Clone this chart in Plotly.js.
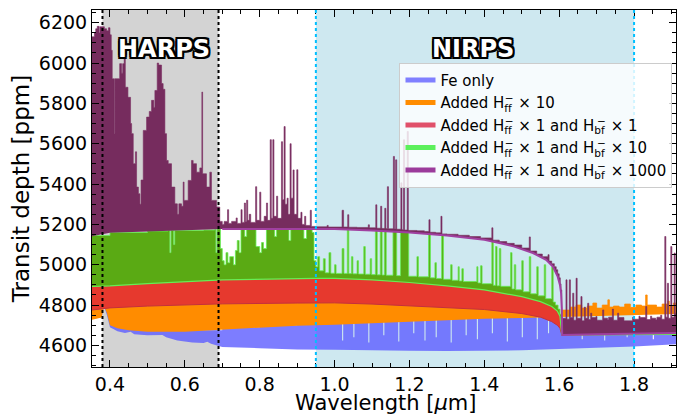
<!DOCTYPE html>
<html><head><meta charset="utf-8">
<script src="https://cdn.plot.ly/plotly-3.0.1.min.js"></script>
<style>html,body{margin:0;padding:0;background:#fff}#chart{width:677px;height:414px}</style>
</head><body><div id="chart"></div>
<script>
// ---- data: [wavelength (um), transit depth (ppm)] ----
const Hff = 'H<sub>f<span style="letter-spacing:-7px">f</span></sub><sup>−</sup>';
const Hbf = 'H<sub>b<span style="letter-spacing:-7.5px">f</span></sub><sup>−</sup>';
const seriesNames = ['Fe only',
  'Added ' + Hff + ' × 10',
  'Added ' + Hff + ' × 1 and ' + Hbf + ' × 1',
  'Added ' + Hff + ' × 1 and ' + Hbf + ' × 10',
  'Added ' + Hff + ' × 1 and ' + Hbf + ' × 1000'];
const xTitle = 'Wavelength [<i>μ</i>m]';
const yTitle = 'Transit depth [ppm]';

const feCont = [[0.35,4730],[0.378,4740],[0.384,4795],[0.392,4750],[0.40,4690],[0.42,4670],[0.44,4662],[0.455,4668],[0.465,4655],[0.50,4650],[0.54,4652],[0.55,4640],[0.58,4625],[0.62,4615],[0.65,4612],[0.66,4618],[0.67,4608],[0.70,4592],[0.80,4586],[0.90,4580],[1.0,4578],[1.1,4574],[1.2,4573],[1.3,4572],[1.4,4573],[1.5,4576],[1.6,4582],[1.7,4588],[1.8,4595],[1.92,4607]];
const feTop = [[0.35,4740],[0.378,4800],[0.392,4765],[0.40,4705],[0.42,4690],[0.45,4680],[0.50,4675],[0.70,4690],[0.80,4700],[0.90,4708],[1.0,4718],[1.02,4625],[1.023,4720],[1.05,4640],[1.053,4722],[1.09,4615],[1.093,4725],[1.13,4650],[1.133,4728],[1.17,4620],[1.173,4730],[1.21,4660],[1.213,4732],[1.24,4625],[1.243,4735],[1.27,4640],[1.273,4738],[1.31,4615],[1.313,4740],[1.35,4650],[1.353,4742],[1.38,4630],[1.383,4744],[1.42,4660],[1.423,4745],[1.46,4620],[1.463,4746],[1.50,4640],[1.503,4746],[1.54,4630],[1.543,4746],[1.57,4660],[1.573,4746],[1.607,4660],[1.66,4630],[1.663,4660],[1.72,4625],[1.723,4660],[1.78,4640],[1.783,4660],[1.85,4630],[1.853,4660],[1.92,4660]];

const ffCont = [[0.35,4727],[0.378,4738],[0.384,4795],[0.392,4760],[0.40,4700],[0.42,4685],[0.45,4675],[0.50,4668],[0.60,4668],[0.70,4677],[0.80,4688],[0.90,4698],[1.0,4703],[1.1,4711],[1.2,4716],[1.3,4724],[1.4,4732],[1.5,4736],[1.6,4740],[1.7,4746],[1.8,4751],[1.92,4756]];
const ffTop = [[0.35,4790],[0.40,4795],[0.50,4802],[0.60,4808],[0.80,4815],[1.0,4818],[1.1,4812],[1.2,4800],[1.3,4793],[1.4,4783],[1.45,4772],[1.5,4763],[1.53,4755],[1.56,4750],[1.60,4752],[1.607,4775],[1.63,4790],[1.645,4800],[1.66,4785],[1.675,4795],[1.69,4810],[1.70,4785],[1.715,4800],[1.73,4826],[1.734,4790],[1.745,4795],[1.76,4790],[1.775,4805],[1.79,4788],[1.805,4800],[1.82,4795],[1.831,4850],[1.835,4800],[1.86,4790],[1.875,4805],[1.89,4820],[1.894,4795],[1.905,4810],[1.92,4800]];

const bf1Cont = [[0.35,4775],[0.40,4786],[0.50,4795],[0.60,4801],[0.70,4806],[0.90,4810],[1.0,4811],[1.1,4805],[1.2,4795],[1.3,4788],[1.4,4778],[1.5,4758],[1.55,4740],[1.58,4718],[1.595,4700],[1.602,4685],[1.607,4652],[1.92,4655]];
const bf1Top = [[0.35,4897],[0.40,4900],[0.50,4911],[0.60,4922],[0.70,4930],[0.95,4937],[1.0,4937],[1.1,4930],[1.2,4917],[1.3,4900],[1.4,4880],[1.5,4847],[1.55,4822],[1.58,4798],[1.595,4775],[1.602,4750],[1.607,4658],[1.92,4660]];

const bf10Cont = [[0.35,4892],[0.40,4895],[0.50,4906],[0.60,4917],[0.70,4925],[0.95,4932],[1.0,4932],[1.1,4925],[1.2,4912],[1.3,4895],[1.4,4875],[1.5,4842],[1.55,4817],[1.58,4793],[1.595,4770],[1.602,4745],[1.607,4652],[1.92,4655]];
const bf10Top = [[0.35,5145],[0.40,5160],[0.50,5167],[0.555,5170],[0.56,5060],[0.563,5170],[0.57,5100],[0.573,5170],[0.65,5172],[0.68,5175],[0.683,5060],[0.686,5177],[0.695,5080],[0.70,5020],[0.705,5000],[0.71,5060],[0.715,5010],[0.72,5040],[0.73,5000],[0.735,5070],[0.74,5120],[0.745,5060],[0.75,5178],[0.76,5140],[0.765,5178],[0.79,5090],[0.80,5060],[0.805,5110],[0.81,5080],[0.818,5178],[0.84,5140],[0.845,5178],[0.878,5120],[0.883,5178],[0.918,5130],[0.925,5178],[0.94,5160],[0.945,5020],
  [0.95,4990],[0.955,5040],[0.96,4970],[0.97,5030],[0.975,4960],[0.985,5060],[0.99,4958],[1.0,5000],[1.004,4957],[1.02,5080],[1.025,4957],[1.034,5173],[1.038,4956],[1.045,5040],[1.049,4955],[1.06,5020],[1.064,4954],[1.078,5090],[1.082,4953],[1.095,5030],[1.099,4951],[1.109,5178],[1.114,4950],[1.122,5178],[1.127,4949],[1.133,5178],[1.138,4948],[1.156,5175],[1.166,4946],[1.176,5170],[1.198,4943],[1.22,5040],[1.224,4940],[1.251,5150],[1.256,4935],[1.268,5010],[1.272,4932],[1.286,5148],[1.291,4928],[1.31,5000],[1.314,4923],[1.33,4990],[1.333,4920],[1.34,4980],[1.344,4917],[1.38,4990],[1.383,4910],[1.39,4995],[1.394,4906],[1.42,5120],[1.424,4898],[1.43,5090],[1.434,4896],[1.44,5080],[1.444,4893],[1.47,5060],[1.474,4880],[1.48,5000],[1.484,4876],[1.50,5020],[1.504,4866],[1.52,5040],[1.524,4856],[1.54,4990],[1.544,4846],[1.56,5000],[1.564,4832],[1.58,4990],[1.584,4815],[1.59,4800],[1.597,4780],[1.602,4755],[1.607,4655],[1.92,4655]];

const bf1000Cont = [[0.35,5140],[0.40,5158],[0.50,5165],[0.60,5170],[0.70,5177],[0.80,5178],[0.90,5178],[1.0,5177],[1.1,5170],[1.2,5160],[1.3,5145],[1.4,5124],[1.44,5108],[1.48,5090],[1.53,5058],[1.565,5024],[1.583,4991],[1.596,4941],[1.602,4900],[1.605,4860],[1.607,4780],[1.608,4652],[1.7,4655],[1.8,4658],[1.92,4662]];
const bf1000Top = [[0.35,6130],[0.3585,6150],[0.362,6170],[0.366,6182],[0.371,6150],[0.373,6180],[0.385,6170],[0.391,6160],[0.396,6175],[0.4,6140],[0.4035,6063],[0.406,5922],[0.412,5650],[0.4135,5922],[0.426,5997],[0.431,5950],[0.434,5997],[0.438,6038],[0.441,5880],[0.448,5830],[0.455,5700],[0.4578,5650],[0.4622,5501],[0.468,5560],[0.4711,5385],[0.476,5352],[0.48,5300],[0.483,5420],[0.4889,5666],[0.4978,5732],[0.505,5760],[0.5111,5815],[0.517,5780],[0.52,5864],[0.5262,6000],[0.53,5990],[0.5378,5898],[0.542,5870],[0.5467,5650],[0.5511,5517],[0.5556,5501],[0.5644,5385],[0.5733,5302],[0.58,5250],[0.584,5302],[0.5911,5290],[0.5956,5410],[0.598,5319],[0.6089,5418],[0.6178,5517],[0.6222,5501],[0.6311,5459],[0.64,5480],[0.6455,5856],[0.6475,5451],[0.6578,5385],[0.6667,5459],[0.6711,5319],[0.6844,5286],[0.6933,5215],
  [0.70,5200],[0.705,5215],[0.714,5273],[0.717,5205],[0.725,5215],[0.737,5232],[0.74,5205],[0.75,5273],[0.753,5210],[0.759,5306],[0.762,5215],[0.765,5320],[0.768,5220],[0.772,5250],[0.776,5210],[0.789,5387],[0.792,5220],[0.80,5360],[0.803,5215],[0.812,5240],[0.818,5306],[0.821,5220],[0.828,5620],[0.831,5230],[0.835,5620],[0.838,5240],[0.845,5340],[0.848,5230],[0.858,5610],[0.861,5322],[0.865,5685],[0.868,5300],[0.873,5330],[0.876,5250],[0.881,5600],[0.884,5330],[0.889,5470],[0.892,5250],[0.899,5471],[0.902,5230],[0.91,5260],[0.913,5200],[0.92,5240],[0.923,5195],[0.935,5270],[0.938,5190],
  [0.95,5188],[0.98,5195],[0.983,5187],[1.02,5270],[1.024,5187],[1.035,5248],[1.038,5186],[1.06,5185],[1.09,5198],[1.093,5183],[1.11,5297],[1.113,5181],[1.123,5290],[1.126,5180],[1.134,5280],[1.137,5179],[1.141,5387],[1.144,5178],[1.157,5537],[1.16,5177],[1.163,5520],[1.166,5176],[1.177,5406],[1.18,5174],[1.184,5620],[1.187,5172],[1.194,5661],[1.197,5170],[1.22,5168],[1.24,5165],[1.252,5223],[1.255,5161],[1.27,5158],[1.284,5240],[1.287,5153],[1.30,5151],[1.33,5146],[1.36,5140],[1.39,5133],[1.42,5183],[1.423,5122],[1.44,5115],[1.46,5106],[1.48,5098],[1.50,5083],[1.52,5138],[1.523,5068],[1.54,5053],[1.555,5040],[1.57,5050],[1.573,5018],[1.58,5005],[1.587,4990],[1.592,4975],[1.596,4955],[1.60,4935],[1.603,4905],[1.605,4875],[1.607,4735],
  [1.618,4925],[1.621,4730],[1.627,4925],[1.630,4738],[1.636,4859],[1.639,4725],[1.645,4933],[1.648,4735],[1.658,4842],[1.661,4722],[1.667,4790],[1.670,4735],[1.676,4809],[1.679,4728],[1.684,4760],[1.687,4738],[1.698,4743],[1.701,4725],[1.716,4776],[1.719,4735],[1.729,4727],[1.732,4740],[1.742,4780],[1.745,4725],[1.756,4760],[1.759,4738],[1.773,4722],[1.796,4740],[1.799,4730],[1.813,4745],[1.816,4738],[1.831,4793],[1.834,4728],[1.844,4745],[1.847,4735],[1.858,4727],[1.861,4740],[1.871,4750],[1.874,4730],[1.882,5140],[1.885,4740],[1.889,4908],[1.892,4735],[1.898,5090],[1.901,4740],[1.907,5058],[1.910,4760],[1.92,4760]];

const xTicks = [0.4,0.6,0.8,1.0,1.2,1.4,1.6,1.8];
const yTicks = [4600,4800,5000,5200,5400,5600,5800,6000,6200];
const harpsBand = [0.38, 0.69];
const nirpsBand = [0.95, 1.80];

// ---- drawing ----
const X = a => a.map(p => p[0]);
const Y = a => a.map(p => p[1]);
const FONT = 'DejaVu Sans, Liberation Sans, sans-serif';

function band(cont, top, fillColor, lineColor, lineW, shape) {
  return [
    {x: X(cont), y: Y(cont), mode: 'lines', line: {width: 0, color: fillColor}, showlegend: false, hoverinfo: 'skip'},
    {x: X(top), y: Y(top), mode: 'lines', fill: 'tonexty', fillcolor: fillColor,
     line: {width: lineW, color: lineColor, shape: shape}, showlegend: false, hoverinfo: 'skip'}
  ];
}

const traces = [].concat(
  band(feCont, feTop, 'rgba(96,96,255,0.82)', 'rgba(96,96,255,0.0)', 0, 'hv'),
  band(ffCont, ffTop, '#ff8c00', '#ff8c00', 0.8, 'hv'),
  band(bf1Cont, bf1Top, '#e6392e', '#e6392e', 0, 'linear'),
  [{x: X(bf1Cont), y: Y(bf1Cont), mode: 'lines', line: {width: 1, color: '#c4303c'}, showlegend: false, hoverinfo: 'skip'}],
  band(bf10Cont, bf10Top, '#5aaa14', '#66ee55', 0.8, 'hv'),
  [{x: X(bf10Cont), y: Y(bf10Cont), mode: 'lines', line: {width: 1.2, color: '#66ee55'}, showlegend: false, hoverinfo: 'skip'}],
  band(bf1000Cont, bf1000Top, '#762c5e', '#7a2e62', 0.6, 'hv'),
  [{x: X(bf1000Cont).filter(v => v >= 0.69), y: Y(bf1000Cont).filter((v,i) => bf1000Cont[i][0] >= 0.69),
    mode: 'lines', line: {width: 2, color: '#a040a0'}, showlegend: false, hoverinfo: 'skip'}]
);

const legendColors = ['#7f7fff', '#ff8c00', '#e0506a', '#5cf05c', '#9b3b9b'];
seriesNames.forEach((n, i) => traces.push({x: [null], y: [null], mode: 'lines', name: n,
  line: {width: 5, color: legendColors[i]}, showlegend: true}));

const outline = '2px 0 0 #000, -2px 0 0 #000, 0 2px 0 #000, 0 -2px 0 #000, 2px 2px 0 #000, -2px -2px 0 #000, 2px -2px 0 #000, -2px 2px 0 #000';

const layout = {
  width: 677, height: 414,
  margin: {l: 92, r: 1, t: 10, b: 47, autoexpand: false},
  paper_bgcolor: '#fff', plot_bgcolor: '#fff',
  font: {family: FONT, color: '#000'},
  showlegend: true,
  legend: {x: 0.994, y: 0.852, xanchor: 'right', yanchor: 'top', bgcolor: 'rgba(255,255,255,0.82)', traceorder: 'normal',
           bordercolor: '#cccccc', borderwidth: 1, font: {size: 15, family: FONT}, tracegroupgap: 0, itemwidth: 30},
  xaxis: {range: [0.352, 1.912], tickmode: 'array', tickvals: xTicks, ticktext: xTicks.map(v => v.toFixed(1)),
          ticks: 'inside', ticklen: 7, tickwidth: 1, tickcolor: '#000', mirror: 'allticks',
          showline: true, linecolor: '#000', linewidth: 1, showgrid: false, zeroline: false,
          minor: {dtick: 0.05, tick0: 0, ticks: 'inside', ticklen: 4, tickcolor: '#000'},
          tickfont: {size: 19, family: FONT}, automargin: false},
  yaxis: {range: [4493, 6263], tickmode: 'array', tickvals: yTicks,
          ticks: 'inside', ticklen: 7, tickwidth: 1, tickcolor: '#000', mirror: 'allticks',
          showline: true, linecolor: '#000', linewidth: 1, showgrid: false, zeroline: false,
          minor: {dtick: 50, tick0: 0, ticks: 'inside', ticklen: 4, tickcolor: '#000'},
          tickfont: {size: 19, family: FONT}, automargin: false,
          title: {text: yTitle, font: {size: 23, family: FONT}, standoff: 2}},
  shapes: [
    {type: 'rect', xref: 'x', yref: 'paper', x0: harpsBand[0], x1: harpsBand[1], y0: 0, y1: 1, fillcolor: '#d3d3d3', line: {width: 0}, layer: 'below'},
    {type: 'rect', xref: 'x', yref: 'paper', x0: nirpsBand[0], x1: nirpsBand[1], y0: 0, y1: 1, fillcolor: 'rgba(173,216,230,0.6)', line: {width: 0}, layer: 'below'},
    {type: 'line', xref: 'x', yref: 'paper', x0: harpsBand[0], x1: harpsBand[0], y0: 0, y1: 1, line: {color: '#000', width: 2, dash: 'dot'}},
    {type: 'line', xref: 'x', yref: 'paper', x0: harpsBand[1], x1: harpsBand[1], y0: 0, y1: 1, line: {color: '#000', width: 2, dash: 'dot'}},
    {type: 'line', xref: 'x', yref: 'paper', x0: nirpsBand[0], x1: nirpsBand[0], y0: 0, y1: 1, line: {color: '#00bfff', width: 2, dash: 'dot'}},
    {type: 'line', xref: 'x', yref: 'paper', x0: nirpsBand[1], x1: nirpsBand[1], y0: 0, y1: 1, line: {color: '#00bfff', width: 2, dash: 'dot'}}
  ],
  annotations: [
    {text: '<b>HARPS</b>', x: 0.544, xref: 'x', y: 0.935, yref: 'paper', showarrow: false,
     font: {size: 24, color: '#fff', family: FONT, shadow: outline}},
    {text: '<b>NIRPS</b>', x: 1.371, xref: 'x', y: 0.935, yref: 'paper', showarrow: false,
     font: {size: 24, color: '#fff', family: FONT, shadow: outline}},
    {text: xTitle, x: 0.503, xref: 'paper', y: -0.063, yref: 'paper', yanchor: 'top', xanchor: 'center',
     showarrow: false, font: {size: 21, family: FONT, color: '#000'}}
  ]
};

Plotly.newPlot('chart', traces, layout, {staticPlot: true, displayModeBar: false});
</script></body></html>
